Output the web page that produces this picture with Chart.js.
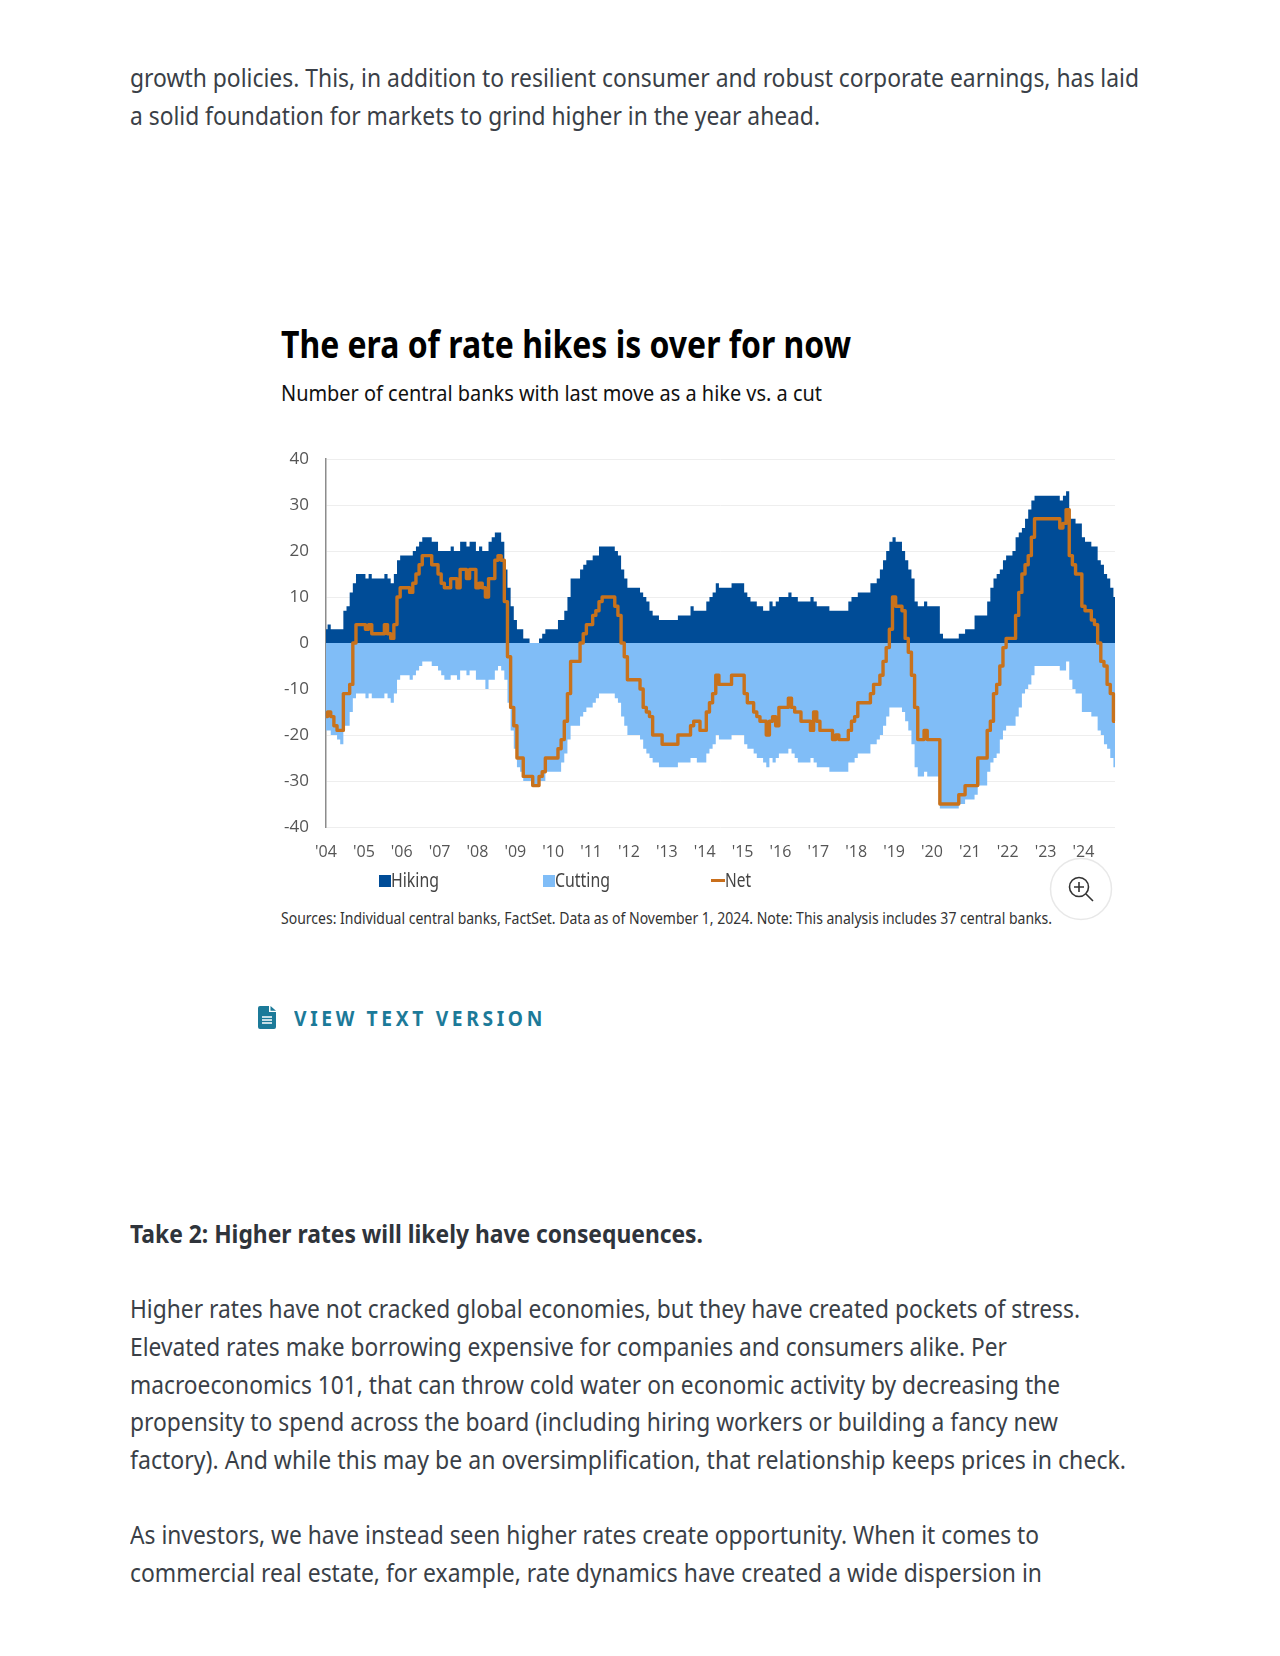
<!DOCTYPE html>
<html><head><meta charset="utf-8">
<script src="https://cdn.jsdelivr.net/npm/chart.js@4"></script>
<style>
html,body{margin:0;padding:0;background:#fff;width:1280px;height:1656px;overflow:hidden}
.t{position:absolute;white-space:nowrap;font-family:"Noto Sans",sans-serif;transform-origin:0 50%;line-height:1;color:#3a3f47}
#wrap{position:absolute;left:260px;top:440px;width:880px;height:428px}
.sw{position:absolute;width:12px;height:12px}
</style></head><body>
<div class="t" data-w="1009" style="left:130px;top:65px;font-size:25px">growth policies. This, in addition to resilient consumer and robust corporate earnings, has laid</div>
<div class="t" data-w="690" style="left:130px;top:103px;font-size:25px">a solid foundation for markets to grind higher in the year ahead.</div>
<div class="t" data-w="570" style="left:281px;top:325px;font-size:37px;font-weight:700;color:#000">The era of rate hikes is over for now</div>
<div class="t" data-w="541" style="left:281px;top:381px;font-size:22px;color:#111">Number of central banks with last move as a hike vs. a cut</div>
<div id="wrap"><canvas id="c"></canvas></div>
<div class="sw" style="left:379px;top:875px;background:#004c97"></div>
<div class="t" data-w="48" style="left:391px;top:871px;font-size:19px;color:#444">Hiking</div>
<div class="sw" style="left:543px;top:875px;background:#80bdf7"></div>
<div class="t" data-w="55" style="left:555px;top:871px;font-size:19px;color:#444">Cutting</div>
<div style="position:absolute;left:711px;top:879px;width:14px;height:3px;background:#c96f1c"></div>
<div class="t" data-w="26" style="left:725px;top:871px;font-size:19px;color:#444">Net</div>
<div class="t" data-w="771" style="left:281px;top:910px;font-size:16px;color:#333">Sources: Individual central banks, FactSet. Data as of November 1, 2024. Note: This analysis includes 37 central banks.</div>
<svg style="position:absolute;left:1050px;top:858px;transform:translate(-1px,-1px)" width="64" height="64" viewBox="0 0 64 64">
<circle cx="32" cy="32" r="30.5" fill="#fff" stroke="#e8e8e8" stroke-width="1.5"/>
<circle cx="30" cy="30" r="9.5" fill="none" stroke="#333" stroke-width="1.6"/>
<path d="M30 25v10M25 30h10M37 37l7 7" stroke="#333" stroke-width="1.6" fill="none"/></svg>
<svg style="position:absolute;left:258px;top:1006px" width="18" height="23" viewBox="0 0 18 23">
<path d="M2 0h9v6h7v15a2 2 0 0 1-2 2H2a2 2 0 0 1-2-2V2a2 2 0 0 1 2-2zM12.500 0L18 4.800H12.500z" fill="#1c7a99"/>
<path d="M4 11h10M4 14h10M4 17h10" stroke="#fff" stroke-width="1.300"/></svg>
<div class="t" data-w="252" style="left:294px;top:1008px;font-size:21px;font-weight:700;color:#1c7a99;letter-spacing:4px">VIEW TEXT VERSION</div>
<div class="t" data-w="573" style="left:130px;top:1221px;font-size:25px;font-weight:700;color:#2f343b">Take 2: Higher rates will likely have consequences.</div>
<div class="t" data-w="950" style="left:130px;top:1296px;font-size:25px">Higher rates have not cracked global economies, but they have created pockets of stress.</div>
<div class="t" data-w="877" style="left:130px;top:1334px;font-size:25px">Elevated rates make borrowing expensive for companies and consumers alike. Per</div>
<div class="t" data-w="930" style="left:130px;top:1372px;font-size:25px">macroeconomics 101, that can throw cold water on economic activity by decreasing the</div>
<div class="t" data-w="928" style="left:130px;top:1409px;font-size:25px">propensity to spend across the board (including hiring workers or building a fancy new</div>
<div class="t" data-w="996" style="left:130px;top:1447px;font-size:25px">factory). And while this may be an oversimplification, that relationship keeps prices in check.</div>
<div class="t" data-w="909" style="left:130px;top:1522px;font-size:25px">As investors, we have instead seen higher rates create opportunity. When it comes to</div>
<div class="t" data-w="912" style="left:130px;top:1560px;font-size:25px">commercial real estate, for example, rate dynamics have created a wide dispersion in</div>
<script>
const years=["'04","'05","'06","'07","'08","'09","'10","'11","'12","'13","'14","'15","'16","'17","'18","'19","'20","'21","'22","'23","'24"];
const hiking=[3,4,3,3,3,3,7,8,11,13,15,15,15,14,15,14,14,14,14,15,14,13,15,18,
19,19,19,19,20,21,22,23,23,23,22,22,20,20,20,20,21,20,20,22,22,21,22,22,
20,21,20,20,22,23,24,24,22,16,12,8,5,3,3,1,1,0,0,0,1,2,3,3,
3,3,5,5,7,10,14,14,14,16,17,18,18,19,19,21,21,21,21,21,20,19,16,14,
12,12,12,12,11,10,9,7,6,6,5,5,5,5,5,5,6,6,6,6,8,7,7,7,
7,9,10,11,13,12,12,12,12,13,13,13,13,11,10,9,9,8,8,7,7,9,8,9,
10,10,10,11,10,10,9,9,9,9,10,9,8,8,8,8,7,7,7,7,7,7,9,10,
10,11,11,11,11,13,13,14,16,18,20,22,23,22,22,20,18,16,14,9,8,8,9,8,
8,8,8,2,1,1,1,1,1,2,2,3,3,3,6,6,6,6,9,12,14,15,16,18,
19,19,20,23,24,25,27,29,31,32,32,32,32,32,32,32,32,31,32,33,27,27,26,26,
23,22,22,21,21,18,17,15,14,12,10];
const cutting=[-19,-19,-20,-20,-21,-22,-18,-18,-15,-12,-11,-11,-11,-12,-11,-12,-12,-12,-12,-11,-12,-13,-11,-8,
-7,-7,-7,-8,-7,-6,-5,-4,-4,-4,-5,-5,-6,-7,-8,-8,-7,-7,-8,-6,-6,-7,-6,-6,
-8,-8,-8,-10,-8,-8,-6,-5,-6,-8,-13,-19,-23,-27,-28,-30,-30,-30,-31,-31,-30,-30,-28,-28,
-28,-28,-28,-26,-24,-21,-18,-18,-18,-16,-15,-14,-14,-13,-12,-11,-11,-11,-11,-11,-12,-13,-16,-18,
-20,-20,-20,-20,-21,-23,-24,-25,-26,-26,-27,-27,-27,-27,-27,-27,-26,-26,-26,-26,-25,-25,-26,-26,
-26,-24,-23,-22,-20,-21,-21,-21,-21,-20,-20,-20,-20,-22,-23,-23,-24,-25,-25,-26,-27,-25,-26,-25,
-24,-24,-24,-23,-24,-25,-26,-26,-26,-26,-25,-26,-27,-27,-27,-27,-28,-28,-28,-28,-28,-28,-26,-26,
-25,-24,-24,-24,-24,-22,-22,-21,-20,-18,-16,-14,-14,-14,-14,-15,-17,-19,-22,-27,-29,-29,-28,-29,
-29,-29,-29,-36,-36,-36,-36,-36,-36,-35,-35,-34,-34,-34,-33,-31,-31,-31,-28,-26,-25,-24,-21,-19,
-18,-18,-18,-16,-14,-11,-10,-9,-7,-5,-5,-5,-5,-5,-5,-5,-5,-6,-6,-4,-8,-10,-11,-11,
-15,-15,-15,-16,-16,-19,-20,-22,-23,-25,-27];
const net=[-16,-15,-16,-18,-19,-19,-11,-11,-9,0,4,4,4,3,4,2,2,2,2,4,2,1,4,10,
12,12,12,11,13,15,17,19,19,19,17,17,15,13,12,12,14,14,12,16,16,14,16,16,
12,13,12,10,14,14,18,19,18,9,-3,-14,-18,-25,-25,-29,-29,-29,-31,-31,-29,-28,-25,-25,
-25,-25,-23,-21,-17,-11,-4,-4,-4,0,2,4,4,6,7,9,10,10,10,10,8,6,0,-3,
-8,-8,-8,-8,-10,-14,-15,-16,-20,-20,-20,-22,-22,-22,-22,-22,-20,-20,-20,-20,-18,-17,-17,-19,
-19,-15,-13,-11,-7,-9,-9,-9,-9,-7,-7,-7,-7,-11,-13,-13,-15,-16,-17,-17,-20,-17,-16,-18,
-14,-14,-14,-12,-14,-15,-15,-17,-17,-17,-19,-15,-17,-19,-19,-19,-19,-21,-20,-21,-21,-21,-19,-17,
-16,-13,-13,-13,-13,-11,-9,-9,-7,-4,-1,3,10,8,8,7,1,-2,-7,-14,-21,-21,-19,-21,
-21,-21,-21,-35,-35,-35,-35,-35,-35,-33,-33,-31,-31,-31,-31,-25,-25,-25,-19,-17,-11,-9,-5,-1,
1,1,1,6,11,15,17,19,23,27,27,27,27,27,27,27,27,25,26,29,19,17,15,15,
8,7,7,5,4,0,-4,-5,-9,-11,-17];
const labels=hiking.map((_,i)=>i%12===0?years[i/12]:'');
const F='"Open Sans",sans-serif';
new Chart(document.getElementById('c'),{type:'line',
 data:{labels,datasets:[
  {label:'Net',data:net,borderColor:'#c8721c',borderWidth:3.4,stepped:'middle',pointRadius:0,fill:false,order:0,borderJoinStyle:'round'},
  {label:'Hiking',data:hiking,borderWidth:0,borderColor:'#004c97',backgroundColor:'#004c97',stepped:'middle',pointRadius:0,fill:'origin',order:1},
  {label:'Cutting',data:cutting,borderWidth:0,borderColor:'#80bdf7',backgroundColor:'#80bdf7',stepped:'middle',pointRadius:0,fill:'origin',order:2}]},
 options:{responsive:true,maintainAspectRatio:false,animation:false,devicePixelRatio:1,
  layout:{padding:{top:19,right:25,left:0,bottom:0}},
  plugins:{legend:{display:false},tooltip:{enabled:false}},
  scales:{
   x:{offset:false,grid:{display:false},border:{display:false},
      afterFit(s){s.height=41},
      ticks:{autoSkip:false,maxRotation:0,minRotation:0,padding:8,color:'#555',font:{family:F,size:16},
        callback(v,i){return labels[i]}}},
   y:{min:-40,max:40,
      afterFit(s){s.width=66;s.paddingTop=0;s.paddingBottom=0},
      border:{display:true,color:'#8c8c8c',width:1.5},
      grid:{color:'#eeeeee',lineWidth:1,drawTicks:false},
      ticks:{stepSize:10,padding:17,color:'#555',font:{family:F,size:17}}}
  }}});
document.querySelectorAll('.t[data-w]').forEach(e=>{
  const w=e.getBoundingClientRect().width,tw=+e.dataset.w;
  e.style.transform='scaleX('+(tw/w)+')';
});
</script>
</body></html>
